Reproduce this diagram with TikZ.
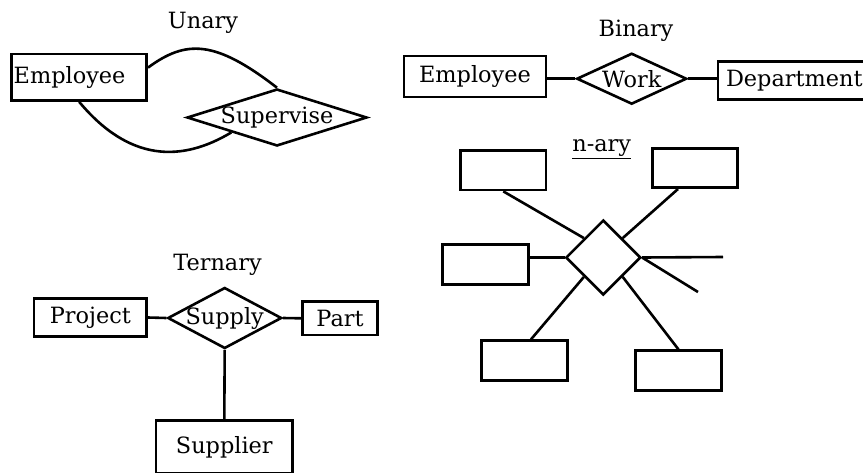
\documentclass[tikz,border=0pt]{standalone}
\usepackage{fontspec}
\setmainfont{DejaVu Serif}
\usetikzlibrary{shapes.geometric}

\begin{document}
\begin{tikzpicture}[x=1pt, y=-1pt, line width=2.6pt]
  \tikzset{every node/.style={font=\fontsize{22.4}{27}\selectfont},
    entity/.style={draw,rectangle,inner sep=0pt},
    nbox/.style={entity,minimum width=85.5pt,minimum height=39.5pt},
    relation/.style={draw,diamond,inner sep=0pt,aspect=1},
    heading/.style={anchor=base}}
  \useasboundingbox (0,0) rectangle (863,472);
  \clip (0,0) rectangle (863,472);

  \node[heading] (T-1) at (203,28.5) {Unary};
  \node[entity,minimum height=46.5pt,text width=131pt,align=left,inner xsep=2pt] (Emp-1) at (79.2,77.3) {Employee};
  \node[relation,minimum width=180pt,minimum height=57pt] (Sup-1) at (277,117.5) {\makebox[0pt]{Supervise}};
  \draw (Emp-1.8) .. controls +(38,-28) and +(-62,-48) .. (Sup-1.north);
  \draw (Emp-1.south) .. controls +(50,60) and +(-50,30) .. (Sup-1.south west);

  \node[heading] (T-2) at (636,36.7) {Binary};
  \node[entity,minimum width=142pt,minimum height=41pt] (Emp-2) at (475,76.3) {Employee};
  \node[relation,minimum width=110pt,minimum height=51pt] (Work-2) at (631.7,78.7) {\makebox[0pt]{Work}};
  \node[entity,anchor=west,inner xsep=8pt,minimum height=37.6pt] (Dept-2) at (716.7,80.5) {Department};
  \draw (Work-2.west) -- (Work-2.west -| Emp-2.east);
  \draw (Work-2.east) -- (Work-2.east -| Dept-2.west);

  \node[heading] (T-3) at (217.5,270) {Ternary};
  \node[entity,minimum width=112.7pt,minimum height=38.4pt] (Proj-3) at (90.3,317.5) {Project};
  \node[relation,minimum width=114pt,minimum height=61pt] (Supply-3) at (224.7,318) {\makebox[0pt]{Supply}};
  \node[entity,minimum width=75.4pt,minimum height=33.3pt] (Part-3) at (340,318.3) {Part};
  \node[entity,minimum width=136.7pt,minimum height=53pt] (Supp-3) at (224.3,447.2) {Supplier};
  \draw (Proj-3.east) -- (Supply-3.west);
  \draw (Supply-3.east) -- (Part-3.west);
  \draw (Supply-3.south) -- (Supp-3.north);

  \node[heading] (T-4) at (601.7,151.7) {\underline{n-ary}};
  \node[nbox] (Ent-4-1) at (503.3,170.3) {};
  \node[nbox] (Ent-4-2) at (695,168) {};
  \node[nbox] (Ent-4-3) at (485.5,264.5) {};
  \node[nbox] (Ent-4-4) at (524.5,360.5) {};
  \node[nbox] (Ent-4-5) at (678.5,370.5) {};
  \node[relation,minimum width=75pt,minimum height=75pt] (Rel-4) at (603.3,257.5) {};
  \coordinate (R-4-1) at (723,257);
  \coordinate (R-4-2) at (698,292);
  \draw (Ent-4-1.south) -- (Rel-4.north west);
  \draw (Ent-4-2.231) -- (Rel-4.north east);
  \draw (Rel-4.west) -- (Rel-4.west -| Ent-4-3.east);
  \draw (Ent-4-4.73) -- (Rel-4.south west);
  \draw (Ent-4-5.north) -- (Rel-4.south east);
  \draw (Rel-4.east) -- (R-4-1);
  \draw (Rel-4.east) -- (R-4-2);
\end{tikzpicture}
\end{document}
